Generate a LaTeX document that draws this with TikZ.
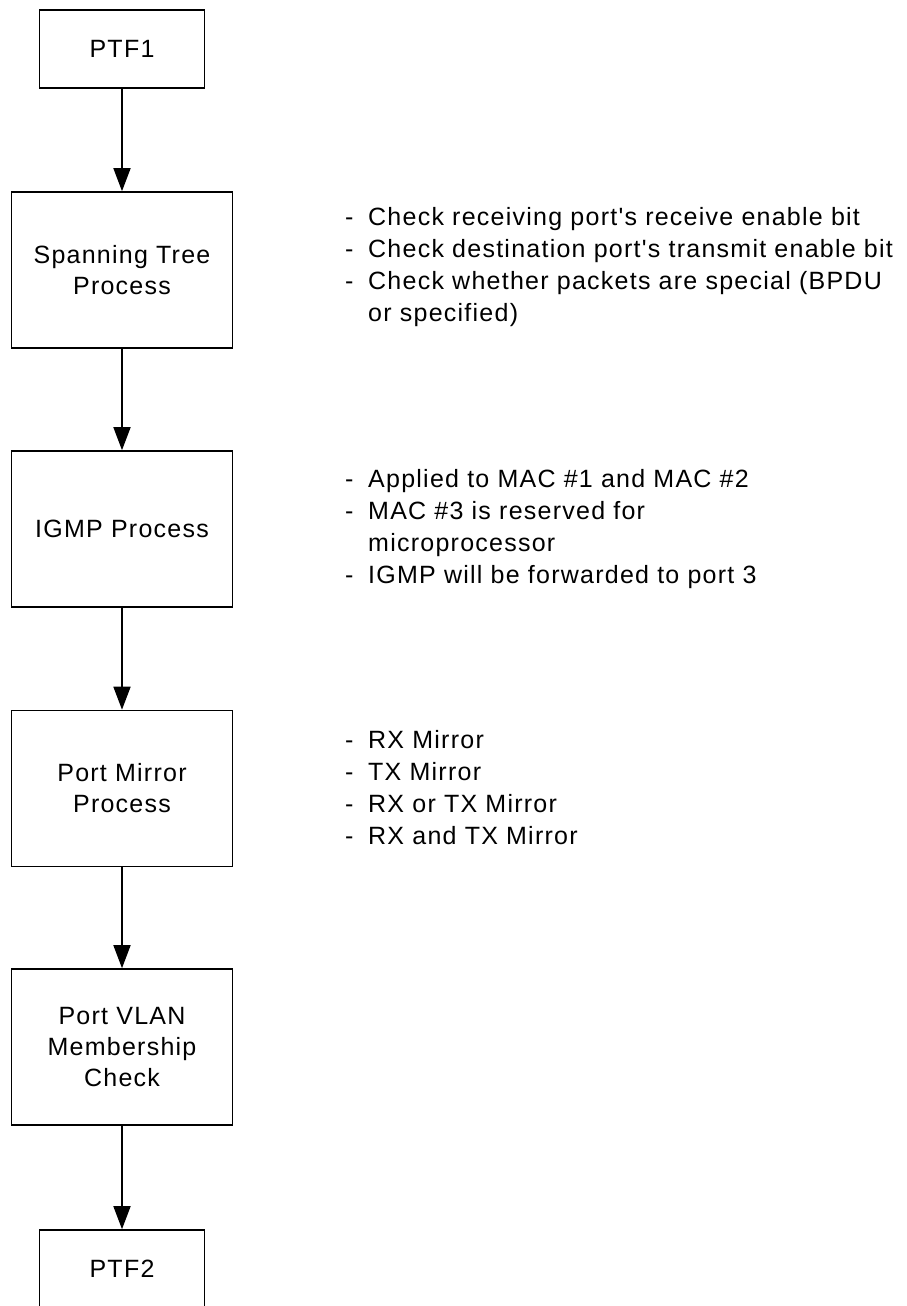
\documentclass[tikz,border=0pt]{standalone}
\usepackage{fontspec}
\setmainfont{Liberation Sans}[Ligatures=TeXOff, LetterSpace=5]
\usetikzlibrary{arrows.meta}

\newcommand{\dashitem}[1]{\makebox[23pt][l]{-}#1}
\newcommand{\contline}[1]{\hspace*{23pt}#1}

\begin{document}
\begin{tikzpicture}[x=1pt, y=-1pt,
    box/.style={rectangle, draw, line width=1.6pt, align=center, inner sep=0pt,
      font=\fontsize{25}{31}\selectfont},
    smallbox/.style={box, minimum width=165pt, minimum height=78pt},
    bigbox/.style={box, minimum width=221pt, minimum height=156pt},
    notes/.style={align=left, anchor=west, inner sep=0pt,
      font=\fontsize{25}{32}\selectfont}]
    \useasboundingbox (0,0) rectangle (906,1306);
    \clip (0,0) rectangle (906,1306);
    \begin{scope}

        \begin{scope}
          \node [smallbox] (ptf1) at (122,49) {PTF1};
          \node [bigbox] (stp) at (122,270) {Spanning Tree\\Process};
          \node [bigbox] (igmp) at (122,529) {IGMP Process};
          \node [bigbox] (mirror) at (122,788.5) {Port Mirror\\Process};
          \node [bigbox] (vlan) at (122,1047) {Port VLAN\\Membership\\Check};
          \node [smallbox] (ptf2) at (122,1269) {PTF2};
        \end{scope}

        \begin{scope}
          \node [notes] (stpnote) at (345,267) {\dashitem{Check receiving port's receive enable bit}\\
            \dashitem{Check destination port's transmit enable bit}\\
            \dashitem{Check whether packets are special (BPDU}\\
            \contline{or specified)}};
          \node [notes] (igmpnote) at (345,529) {\dashitem{Applied to MAC \#1 and MAC \#2}\\
            \dashitem{MAC \#3 is reserved for}\\
            \contline{microprocessor}\\
            \dashitem{IGMP will be forwarded to port 3}};
          \node [notes] (mirrornote) at (345,788) {\dashitem{RX Mirror}\\
            \dashitem{TX Mirror}\\
            \dashitem{RX or TX Mirror}\\
            \dashitem{RX and TX Mirror}};
        \end{scope}

        \begin{scope}[-{Triangle[length=23pt, width=17pt]}, line width=1.6pt]
          \draw (ptf1) to (stp);
          \draw (stp) to (igmp);
          \draw (igmp) to (mirror);
          \draw (mirror) to (vlan);
          \draw (vlan) to (ptf2);
        \end{scope}
      \end{scope}

  \end{tikzpicture}
\end{document}
